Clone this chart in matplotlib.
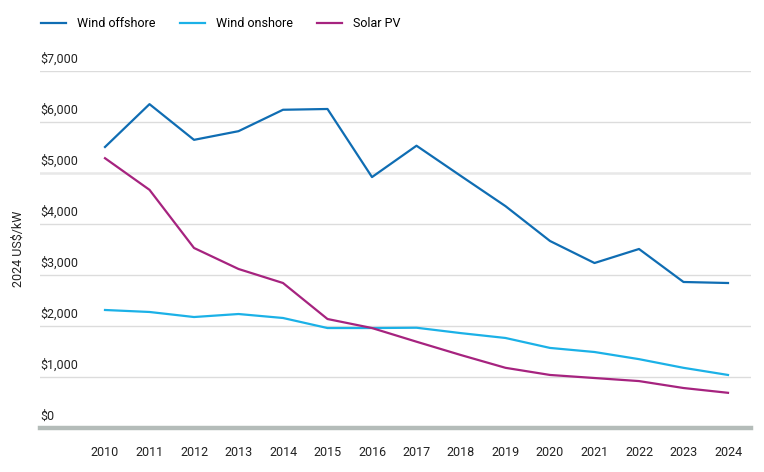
import numpy as np
import matplotlib
matplotlib.use("Agg")
import matplotlib.pyplot as plt

plt.rcParams["font.family"] = ["Roboto", "DejaVu Sans"]

years = list(range(2010, 2025))
wind_offshore = [5510, 6350, 5650, 5820, 6240, 6255, 4920, 5535, 4940, 4350,
                 3667, 3235, 3510, 2863, 2843]
wind_onshore = [2314, 2275, 2176, 2235, 2157, 1960, 1960, 1966, 1860, 1765,
                1570, 1490, 1350, 1180, 1040]
solar_pv = [5290, 4670, 3530, 3118, 2843, 2137, 1960, 1692, 1430, 1180,
            1040, 980, 920, 784, 690]
yticks = [0, 1000, 2000, 3000, 4000, 5000, 6000, 7000]

W, H = 764, 472
fig = plt.figure(figsize=(W / 100, H / 100), dpi=100)
ax = fig.add_axes([40 / W, (H - 428) / H, (751 - 40) / W, (428 - 71) / H])

ax.set_xlim(2010 - 65 / 44.5, 2024 + 23 / 44.5)
ax.set_ylim(0, 7000)

# gridlines and labels sitting above them
for v in yticks:
    if v == 0:
        ax.axhline(v, color="#b4bcb9", lw=3.2, zorder=1, clip_on=False)
    else:
        ax.axhline(v, color="#e8e8e8" if v == 5000 else "#dcdcdc",
                   lw=1.8 if v == 5000 else 1.0, zorder=0)
    ax.annotate(f"${v:,}", xy=(0, v), xycoords=("axes fraction", "data"),
                xytext=(0, 3.5), textcoords="offset points",
                ha="left", va="bottom", fontsize=9, color="#222222")

ax.plot(years, wind_offshore, color="#0f6db3", lw=1.6, label="Wind offshore", zorder=3)
ax.plot(years, wind_onshore, color="#1bb1e7", lw=1.6, label="Wind onshore", zorder=3)
ax.plot(years, solar_pv, color="#a6237f", lw=1.6, label="Solar PV", zorder=3)

ax.set_xticks(years)
ax.set_xticklabels([str(y) for y in years], fontsize=9, color="#222222")
ax.tick_params(axis="x", length=0, pad=13)
ax.set_yticks([])
for s in ax.spines.values():
    s.set_visible(False)

fig.text(18 / W, 1 - 249 / H, "2024 US$/kW", rotation=90, ha="center",
         va="center", fontsize=9, color="#222222")

fig.legend(loc="upper left", bbox_to_anchor=(36 / W, 1 - 12 / H), ncol=3,
           frameon=False, fontsize=9, handlelength=2.0, handletextpad=0.9,
           columnspacing=1.9, borderaxespad=0)

fig.savefig("out.png", dpi=100)
